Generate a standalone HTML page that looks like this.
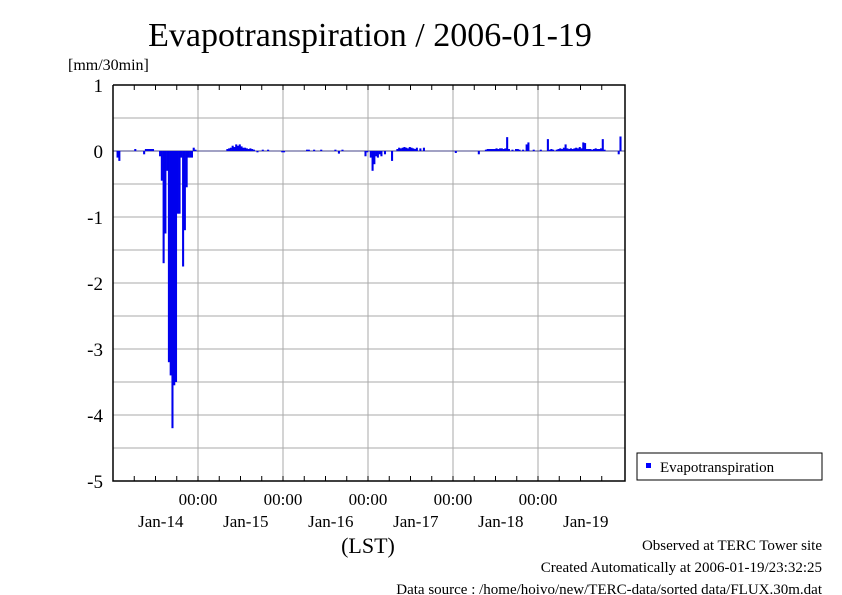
<!DOCTYPE html>
<html><head><meta charset="utf-8"><style>
body{margin:0;background:#fff}
svg{display:block;font-family:"Liberation Serif",serif}
</style></head><body>
<svg id="chart" width="842" height="595" viewBox="0 0 842 595">
<text x="370" y="46" font-size="34" text-anchor="middle">Evapotranspiration / 2006-01-19</text>
<text x="68" y="70" font-size="16">[mm/30min]</text>
<g id="grid"></g>
<g id="bars"></g>
<g id="axes"></g>
<text x="368" y="553" font-size="22" text-anchor="middle">(LST)</text>
<g>
<rect x="637" y="453" width="185" height="27" fill="#fff" stroke="#000" stroke-width="1"/>
<rect x="646" y="463" width="5" height="5" fill="#0000ff"/>
<text x="660" y="472" font-size="15">Evapotranspiration</text>
</g>
<text x="822" y="550" font-size="15" text-anchor="end">Observed at TERC Tower site</text>
<text x="822" y="572" font-size="15" text-anchor="end">Created Automatically at 2006-01-19/23:32:25</text>
<text x="822" y="595" font-size="15" text-anchor="end" dy="-1">Data source : /home/hoivo/new/TERC-data/sorted  data/FLUX.30m.dat</text>
</svg>
<script>
const yTicks=[1,0,-1,-2,-3,-4,-5];
const dayLabels=["Jan-14","Jan-15","Jan-16","Jan-17","Jan-18","Jan-19"];
const midnightHours=[24,48,72,96,120];
const day0=[0,0,-0.1,-0.15,0,0,0,0,0,0,0,0,0.03,0,0,0,0,-0.05,0.03,0.03,0.03,0.03,0.03,0,0,0,-0.08,-0.45,-1.7,-1.25,-0.3,-3.2,-3.4,-4.2,-3.55,-3.5,-0.95,-0.95,-0.1,-1.75,-1.2,-0.55,-0.1,-0.1,-0.1,0.05,0.02,0];
const day1=[0,0,0,0,0,0,0,0,0,0,0,0,0,0,0,0,0.03,0.04,0.05,0.08,0.06,0.1,0.08,0.1,0.07,0.05,0.05,0.04,0.03,0.04,0.03,0.02,0,-0.02,0,0,0.02,0,0,0.02,0,0,0,0,0,0,0,-0.02];
const day2=[-0.02,0,0,0,0,0,0,0,0,0,0,0,0,0.02,0.02,0,0,0.02,0,0,0,0.02,0,0,0,0,0,0,0,0.02,0,-0.04,0,0.02,0,0,0,0,0,0,0,0,0,0,0,0,-0.08,-0.02];
const day3=[0,-0.1,-0.3,-0.2,-0.08,-0.1,-0.05,-0.08,0,-0.05,0,0,0,-0.15,0,0,0.03,0.05,0.04,0.05,0.06,0.05,0.04,0.06,0.05,0.04,0.03,0.05,0,0.04,0,0.05,0,0,0,0,0,0,0,0,0,0,0,0,0,0,0,0];
const day4=[0,-0.03,0,0,0,0,0,0,0,0,0,0,0,0,-0.05,0,0,0,0.02,0.03,0.03,0.03,0.03,0.03,0.04,0.03,0.04,0.04,0.03,0.04,0.21,0.03,0,0.02,0,0.03,0.03,0.02,0,0.02,0,0.1,0.13,0,0,0.02,0,0];
const day5=[0,0.02,0,0,0,0.18,0.02,0.03,0.02,0,0.02,0.03,0.04,0.03,0.05,0.1,0.04,0.03,0.04,0.03,0.04,0.05,0.04,0.06,0.04,0.13,0.12,0.03,0.03,0.03,0.02,0.03,0.04,0.03,0.03,0.04,0.18,0.02,0,0,0,0,0,0,0,-0.05,0.22,0];
const values=[].concat(day0,day1,day2,day3,day4,day5);

const NS="http://www.w3.org/2000/svg";
const L=113,R=623,T=85,B=481;
const xS=h=>L+(h/144)*(R-L);
const yS=v=>T+(1-v)/6*(B-T);
function mk(tag,attrs,parent){const e=document.createElementNS(NS,tag);for(const k in attrs)e.setAttribute(k,attrs[k]);parent.appendChild(e);return e;}
const grid=document.getElementById('grid'),bars=document.getElementById('bars'),axes=document.getElementById('axes');
for(let v=1;v>=-5;v-=0.5){
  const g=mk('line',{x1:L,x2:625,y1:yS(v),y2:yS(v),stroke:'#aaa','stroke-width':1},grid);
  
  
}
midnightHours.forEach(h=>{
  const g=mk('line',{x1:xS(h),x2:xS(h),y1:T,y2:B,stroke:'#aaa','stroke-width':1},grid);
  
  
  const t=mk('text',{x:xS(h),y:505,'font-size':17,'text-anchor':'middle'},axes);
  t.textContent='00:00';
  
  
});
const zl=mk('line',{x1:L,x2:625,y1:yS(0),y2:yS(0),stroke:'#444488','stroke-width':1},grid);


const bw=(R-L)/288;
values.forEach((v,i)=>{
  if(v===0)return;
  const x=xS(i*0.5),y0=yS(0),y1=yS(v);
  const r=mk('rect',{x:x,y:Math.min(y0,y1),width:bw+0.3,height:Math.max(1,Math.abs(y1-y0)),fill:'#0000ee'},bars);
  
  
});
const frame=mk('path',{d:`M${L},${T}V${B}H625V${T}H${L}`,fill:'none',stroke:'#000','stroke-width':1.5},axes);


yTicks.forEach(v=>{
  const t=mk('text',{x:103,y:yS(v)+7,'font-size':19,'text-anchor':'end'},axes);
  t.textContent=String(v);
  
  
});
for(let h=6;h<144;h+=6){
  const tk=mk('line',{x1:xS(h),x2:xS(h),y1:B,y2:B-5,stroke:'#000','stroke-width':1},axes);
  
  
  const tk2=mk('line',{x1:xS(h),x2:xS(h),y1:T,y2:T+5,stroke:'#000','stroke-width':1},axes);
  
  
}
dayLabels.forEach((d,i)=>{
  const t=mk('text',{x:xS(24*i+13.5),y:527,'font-size':17,'text-anchor':'middle'},axes);
  t.textContent=d;
  
  
});
</script>
</body></html>
